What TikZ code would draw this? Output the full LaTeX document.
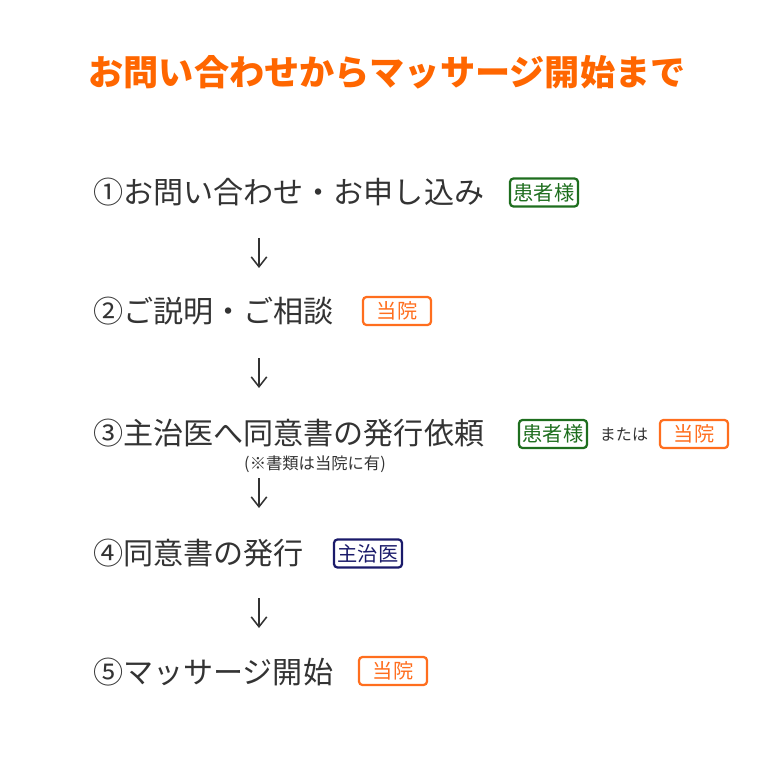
\documentclass[tikz,border=0pt]{standalone}
\usepackage{fontspec}
\setmainfont{Noto Sans CJK JP}
\definecolor{O}{HTML}{FF6600}
\definecolor{B}{HTML}{FF6E1E}
\definecolor{G}{HTML}{1E6E1E}
\definecolor{N}{HTML}{1A1A6A}
\definecolor{K}{HTML}{333333}
\usepackage{tikz}
\usetikzlibrary{arrows.meta}
\tikzstyle{base}=[x=0.025cm, y=-0.025cm, inner sep=0pt, outer sep=0pt]
\tikzstyle{stepnode}=[anchor=west, text=K, font=\fontsize{21.4}{24}\selectfont]
\tikzstyle{badge}=[draw, line width=1.6pt, rounded corners=2.5pt, minimum width=1.7cm, minimum height=0.7cm, font=\fontsize{14.4}{16}\selectfont]
\tikzstyle{down}=[draw=K, line width=1.1pt, -{Straight Barb[length=7pt,width=11pt]}]

\begin{document}
\begin{tikzpicture}[base]
    \path [use as bounding box] (0,0) rectangle (780,780);
    % title
    \node [text=O, font=\fontsize{25}{28}\selectfont\bfseries] (title) at (387,72) {お問い合わせからマッサージ開始まで};
    % steps
    \node [stepnode] (s1) at (93,192) {①お問い合わせ・お申し込み};
    \node [stepnode] (s2) at (93,311) {②ご説明・ご相談};
    \node [stepnode] (s3) at (93,433) {③主治医へ同意書の発行依頼};
    \node [stepnode] (s4) at (93,553) {④同意書の発行};
    \node [stepnode] (s5) at (93,672) {⑤マッサージ開始};
    \node [text=K, font=\fontsize{11.6}{13}\selectfont] (note) at (315,464) {(※書類は当院に有)};
    % who
    \node [badge, draw=G, text=G] (b1) at (544,192.5) {患者様};
    \node [badge, draw=B, text=B] (b2) at (397,311) {当院};
    \node [badge, draw=G, text=G] (b3a) at (553,434) {患者様};
    \node [text=K, font=\fontsize{11.4}{13}\selectfont] (or) at (624,434) {または};
    \node [badge, draw=B, text=B] (b3b) at (694,434) {当院};
    \node [badge, draw=N, text=N] (b4) at (368,553.5) {主治医};
    \node [badge, draw=B, text=B] (b5) at (393,671) {当院};
    % arrows
    \coordinate (a1) at (259,238);
    \coordinate (a2) at (259,268);
    \coordinate (a3) at (259,358);
    \coordinate (a4) at (259,388);
    \coordinate (a5) at (259,478);
    \coordinate (a6) at (259,508);
    \coordinate (a7) at (259,598);
    \coordinate (a8) at (259,628);
    \draw [down] (a1) -- (a2);
    \draw [down] (a3) -- (a4);
    \draw [down] (a5) -- (a6);
    \draw [down] (a7) -- (a8);
\end{tikzpicture}
\end{document}
